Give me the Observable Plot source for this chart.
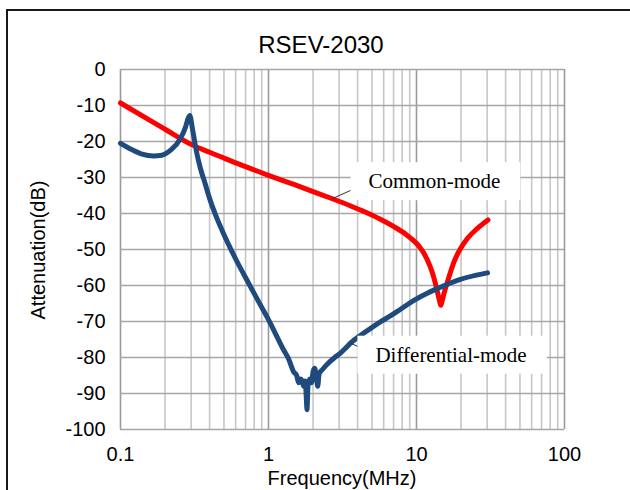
<!DOCTYPE html>
<html><head><meta charset="utf-8">
<script src="https://cdn.jsdelivr.net/npm/d3@7"></script>
<script src="https://cdn.jsdelivr.net/npm/@observablehq/plot@0.6"></script>
<style>
html,body{margin:0;padding:0;background:#fff;overflow:hidden;}
#wrap{position:relative;width:630px;height:490px;overflow:hidden;font-family:"Liberation Sans",Arial,sans-serif;color:#000;}
#frame{position:absolute;left:6px;top:9px;width:700px;height:600px;border:2px solid #1a1a1a;box-sizing:border-box;}
#title{position:relative;height:40px;width:642px;text-align:center;font-size:24px;line-height:30px;padding-top:30px;box-sizing:border-box;overflow:visible;z-index:2;}
#chart{position:relative;}
#ylab{position:absolute;left:38px;top:250px;transform:translate(-50%,-50%) rotate(-90deg);font-size:20px;white-space:nowrap;}
#xlab{position:absolute;left:342px;top:478px;transform:translate(-50%,-50%);font-size:20px;white-space:nowrap;}
</style></head>
<body>
<div id="wrap">
  <div id="frame"></div>
  <div id="title">RSEV-2030</div>
  <div id="chart"></div>
  <div id="ylab">Attenuation(dB)</div>
  <div id="xlab">Frequency(MHz)</div>
</div>
<script>
// Common-mode attenuation (red)
const cmFreq = [0.1,0.15,0.2,0.3,0.4,0.5,0.7,1,1.5,2,2.7,3.5,4.5,5.7,7,8.5,9.6,10.5,11.2,12.3,13.1,13.8,14.3,14.6,14.9,15.4,16.1,17,17.9,20,22,25.7,30.4];
const cmDb   = [-9.3,-13.6,-16.6,-20.8,-23,-24.6,-27,-29.4,-32,-33.9,-35.9,-37.7,-39.6,-41.6,-43.6,-45.8,-47.6,-49.3,-51,-54.5,-57.8,-61.5,-64.2,-65.5,-64.3,-62,-59.3,-56.2,-53.5,-49.5,-47,-44.2,-41.8];
// Differential-mode attenuation (blue)
const dmFreq = [0.1,0.12,0.14,0.167,0.19,0.218,0.254,0.275,0.287,0.294,0.305,0.32,0.335,0.347,0.375,0.405,0.44,0.486,0.598,0.737,0.906,1.0,1.112,1.25,1.37,1.48,1.55,1.6,1.65,1.69,1.73,1.77,1.8,1.82,1.85,1.9,1.95,2.0,2.05,2.1,2.15,2.2,2.31,2.45,2.62,2.8,3.06,3.3,3.58,4.2,4.9,5.7,6.7,7.8,9.55,12,14.5,17,19.8,25,30.2];
const dmDb   = [-20.5,-22.3,-23.5,-24,-23.8,-22.4,-19.2,-16,-13.5,-12.8,-16,-21,-25,-27.5,-32,-36.5,-40.5,-44.7,-52.5,-59.5,-66.3,-69.5,-73.3,-77.5,-80.5,-84,-85,-87,-86,-86.6,-88,-86.5,-91,-94.5,-87.5,-86,-87,-84,-83,-85,-88,-84.5,-83.4,-82.2,-81,-80,-78.8,-77.5,-76,-73.8,-71.9,-70.1,-68.4,-66.6,-64.2,-62,-60.5,-59.3,-58.3,-57.2,-56.5];

// Axis ticks / grid
const xTicks = [0.1,1,10,100];
const xMinor = [0.2,0.3,0.4,0.5,0.6,0.7,0.8,0.9,2,3,4,5,6,7,8,9,20,30,40,50,60,70,80,90];
const yTicks = [0,-10,-20,-30,-40,-50,-60,-70,-80,-90,-100];

// Callout labels
const annotText = ["Common-mode","Differential-mode"];
const annotFreq = [4.74,5.28];
const annotDb = [-31.1,-79.3];
const leaderFromFreq = [2.69,3.58];
const leaderFromDb = [-35.9,-76];
const leaderToFreq = [4.52,5.17];
const leaderToDb = [-31.75,-79.0];

const cm = cmFreq.map((f,i)=>({f, db: cmDb[i]}));
const dm = dmFreq.map((f,i)=>({f, db: dmDb[i]}));
const annots = annotText.map((t,i)=>({t, f: annotFreq[i], db: annotDb[i]}));
const leaders = annotText.map((t,i)=>({x1: leaderFromFreq[i], y1: leaderFromDb[i], x2: leaderToFreq[i], y2: leaderToDb[i]}));

const svg = Plot.plot({
  width: 630,
  height: 450,
  marginTop: 29,
  marginBottom: 61,
  marginLeft: 120,
  marginRight: 66,
  style: {fontFamily: "'Liberation Sans', Arial, sans-serif", fontSize: "20px", background: "transparent", color: "#000", overflow: "visible"},
  x: {type: "log", domain: [0.1, 100], ticks: xTicks, tickFormat: d => String(d), tickSize: 0, tickPadding: 17, label: null},
  y: {domain: [-100, 0], ticks: yTicks, tickFormat: d => String(d), tickSize: 0, tickPadding: 15, label: null},
  marks: [
    Plot.ruleX(xMinor, {stroke: "#c6c6c6", strokeWidth: 1.6}),
    Plot.ruleX(xTicks, {stroke: "#9a9a9a", strokeWidth: 1.6}),
    Plot.ruleY(yTicks, {stroke: "#a6a6a6", strokeWidth: 1.6}),
    Plot.line(cm, {x: "f", y: "db", stroke: "#ff0000", strokeWidth: 5, strokeLinejoin: "round", strokeLinecap: "round", curve: "monotone-x"}),
    Plot.line(dm, {x: "f", y: "db", stroke: "#1f4a7e", strokeWidth: 5, strokeLinejoin: "round", strokeLinecap: "round", curve: "monotone-x"}),
    Plot.link(leaders, {x1: "x1", y1: "y1", x2: "x2", y2: "y2", stroke: "#333", strokeWidth: 1}),
    Plot.text(annots, {x: "f", y: "db", text: "t", textAnchor: "start", fontFamily: "'Liberation Serif', 'Times New Roman', serif", fontSize: 21, fill: "#000"})
  ]
});
document.getElementById("chart").append(svg);

// white boxes behind callout labels
const ns = "http://www.w3.org/2000/svg";
d3.select(svg).selectAll("text").each(function() {
  if (!annotText.includes(this.textContent)) return;
  const bb = this.getBBox();
  const r = document.createElementNS(ns, "rect");
  const cy = bb.y + bb.height / 2;
  r.setAttribute("x", bb.x - 18);
  r.setAttribute("y", cy - 19);
  r.setAttribute("width", bb.width + 38);
  r.setAttribute("height", 38);
  r.setAttribute("fill", "#fff");
  const tr = this.getAttribute("transform");
  if (tr) r.setAttribute("transform", tr);
  this.parentNode.insertBefore(r, this);
});
</script>
</body></html>
